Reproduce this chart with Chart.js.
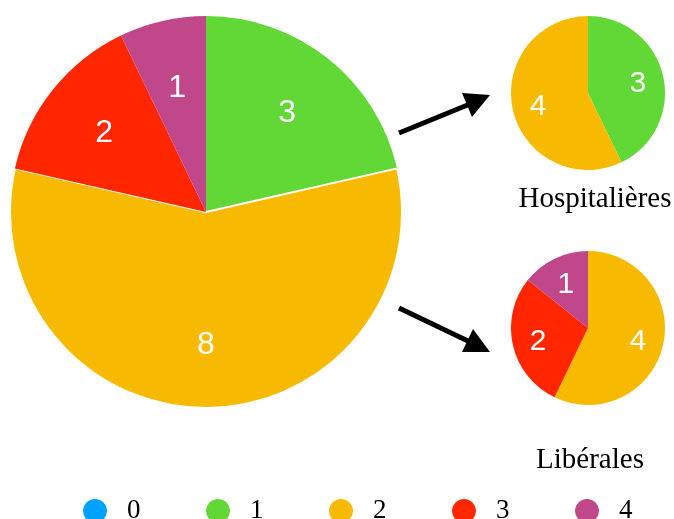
<!DOCTYPE html>
<html>
<head>
<meta charset="utf-8">
<script src="https://cdn.jsdelivr.net/npm/chart.js@4/dist/chart.umd.min.js"></script>
<style>
  html, body { margin: 0; padding: 0; background: #fff; }
  #stage { position: relative; width: 674px; height: 519px; overflow: hidden; }
  canvas { position: absolute; }
  svg { position: absolute; left: 0; top: 0; }
</style>
</head>
<body>
<div id="stage">
  <canvas id="totalPie" width="394" height="394" style="left:9px;top:15px"></canvas>
  <canvas id="hospPie" width="154" height="154" style="left:511px;top:16px"></canvas>
  <canvas id="libPie" width="154" height="154" style="left:511px;top:251px"></canvas>
  <svg id="overlay" width="674" height="519"></svg>
</div>
<script>
// catégories (légende) et couleurs
const categories = ['0', '1', '2', '3', '4'];
const colors = ['#00A2FF', '#61D836', '#F8BA00', '#FF2600', '#C0478A'];

// valeurs par camembert
const totalValues = [0, 3, 8, 2, 1];
const hospValues = [0, 3, 4, 0, 0];
const libValues = [0, 0, 4, 2, 1];

const hospTitle = 'Hospitalières';
const libTitle = 'Libérales';

// étiquettes de valeur dans les parts
const valueLabels = {
  id: 'valueLabels',
  afterDatasetsDraw(chart, args, opts) {
    const ctx = chart.ctx;
    const data = chart.data.datasets[0].data;
    chart.getDatasetMeta(0).data.forEach((arc, i) => {
      if (!data[i]) return;
      const p = arc.getProps(['x', 'y', 'startAngle', 'endAngle', 'outerRadius'], true);
      const mid = (p.startAngle + p.endAngle) / 2;
      const r = p.outerRadius * 0.664;
      ctx.save();
      ctx.fillStyle = '#fff';
      ctx.font = opts.size + 'px "Liberation Sans", Arial, sans-serif';
      ctx.textAlign = 'center';
      ctx.textBaseline = 'alphabetic';
      // centrer la hauteur des chiffres
      ctx.fillText(String(data[i]), p.x + Math.cos(mid) * r, p.y + Math.sin(mid) * r + opts.size * 0.36);
      ctx.restore();
    });
  }
};

function makePie(id, values, borders, labelSize) {
  return new Chart(document.getElementById(id), {
    type: 'pie',
    data: {
      labels: categories,
      datasets: [{
        data: values,
        backgroundColor: colors,
        borderColor: '#fff',
        borderWidth: borders
      }]
    },
    options: {
      responsive: false,
      animation: false,
      events: [],
      layout: { padding: 0 },
      plugins: {
        legend: { display: false },
        tooltip: { enabled: false },
        valueLabels: { size: labelSize }
      }
    },
    plugins: [valueLabels]
  });
}

makePie('totalPie', totalValues, [0, 0, 2, 0, 0], 32);
makePie('hospPie', hospValues, 0, 30);
makePie('libPie', libValues, 0, 30);

// flèches, titres et légende
const NS = 'http://www.w3.org/2000/svg';
const svg = document.getElementById('overlay');
function el(tag, attrs, text) {
  const e = document.createElementNS(NS, tag);
  for (const k in attrs) e.setAttribute(k, attrs[k]);
  if (text !== undefined) e.textContent = text;
  svg.appendChild(e);
  return e;
}

el('line', { x1: 399, y1: 133, x2: 470, y2: 104, stroke: '#000', 'stroke-width': 5 });
el('polygon', { points: '490,95 462,93 472,117', fill: '#000' });
el('line', { x1: 399, y1: 308, x2: 470, y2: 342, stroke: '#000', 'stroke-width': 5 });
el('polygon', { points: '490,352 462,352 473,329', fill: '#000' });

const serif = '"Liberation Serif", "Times New Roman", serif';
el('text', { x: 595, y: 207, 'text-anchor': 'middle', 'font-family': serif, 'font-size': 29, fill: '#000' }, hospTitle);
el('text', { x: 590, y: 468, 'text-anchor': 'middle', 'font-family': serif, 'font-size': 29, fill: '#000' }, libTitle);

categories.forEach((c, i) => {
  const x = 95 + i * 123;
  el('circle', { cx: x, cy: 511, r: 12, fill: colors[i] });
  el('text', { x: x + 32, y: 518, 'font-family': serif, 'font-size': 27, fill: '#000' }, c);
});
</script>
</body>
</html>
